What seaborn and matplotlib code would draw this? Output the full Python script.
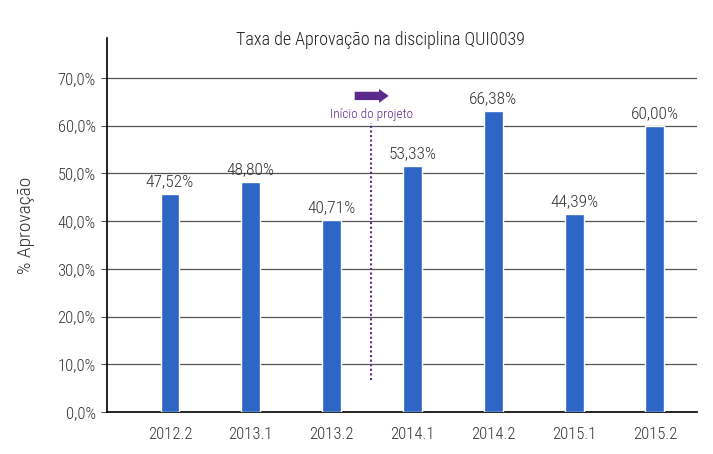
import matplotlib
matplotlib.use('Agg')
import matplotlib.pyplot as plt
import seaborn as sns
import pandas as pd

# Semestres e taxa de aprovação
semestres = ['2012.2', '2013.1', '2013.2', '2014.1', '2014.2', '2015.1', '2015.2']
# altura das barras como desenhadas no gráfico original
altura_barras = [45.7, 48.2, 40.2, 51.6, 63.0, 41.5, 59.9]
# rótulos escritos acima das barras
rotulos = ['47,52%', '48,80%', '40,71%', '53,33%', '66,38%', '44,39%', '60,00%']
yticks = [0, 10, 20, 30, 40, 50, 60, 70]

sns.set_style('white')
plt.rcParams['font.family'] = ['Roboto Condensed', 'DejaVu Sans']
plt.rcParams['font.weight'] = 'light'
plt.rcParams['axes.labelweight'] = 'light'

df = pd.DataFrame({'semestre': semestres, 'aprovacao': altura_barras})

fig = plt.figure(figsize=(7.13, 4.54), dpi=100)
ax = fig.add_axes([0.150, 0.0925, 0.8276, 0.8235])

sns.barplot(data=df, x='semestre', y='aprovacao', color='#2E66C5',
            saturation=1, width=0.235, ax=ax, zorder=3)

ax.set_xlim(-0.78, 6.52)
ax.set_ylim(0, 78.3)
ax.set_yticks(yticks)
ax.set_yticklabels([f'{v:.1f}%'.replace('.', ',') for v in yticks])
ax.yaxis.grid(True, color='#555555', linewidth=0.9, zorder=0)
ax.set_axisbelow(True)

for s in ['top', 'right']:
    ax.spines[s].set_visible(False)
for s in ['left', 'bottom']:
    ax.spines[s].set_color('black')
    ax.spines[s].set_linewidth(1.2)

ax.tick_params(axis='y', left=True, length=4, color='#555555', labelsize=12, pad=4, labelcolor='#333333')
ax.tick_params(axis='x', bottom=False, labelsize=12, pad=7, labelcolor='#333333')

ax.set_xlabel('')
ax.set_ylabel('% Aprovação', fontsize=14, color='#333333', labelpad=16, fontweight='light')
fig.text(0.534, 0.912, 'Taxa de Aprovação na disciplina QUI0039',
         ha='center', va='center', fontsize=13, color='#222222')

# rótulos acima das barras
for i, (h, txt) in enumerate(zip(altura_barras, rotulos)):
    ax.text(i, h + 1.0, txt, ha='center', va='bottom', fontsize=12.5, color='#333333')

# início do projeto
roxo = '#5B2A8C'
ax.plot([2.49, 2.49], [6.7, 60.5], linestyle=(0, (1, 1.2)), color=roxo, linewidth=1.5, zorder=4)
ax.annotate('', xy=(2.74, 66.2), xytext=(2.25, 66.2),
            arrowprops=dict(arrowstyle='simple,head_width=1.0,head_length=0.7,tail_width=0.6',
                            color=roxo, lw=0))
ax.text(2.49, 62.3, 'Início do projeto', ha='center', va='center', fontsize=9.5, color=roxo)

fig.savefig('out.png', dpi=100)
